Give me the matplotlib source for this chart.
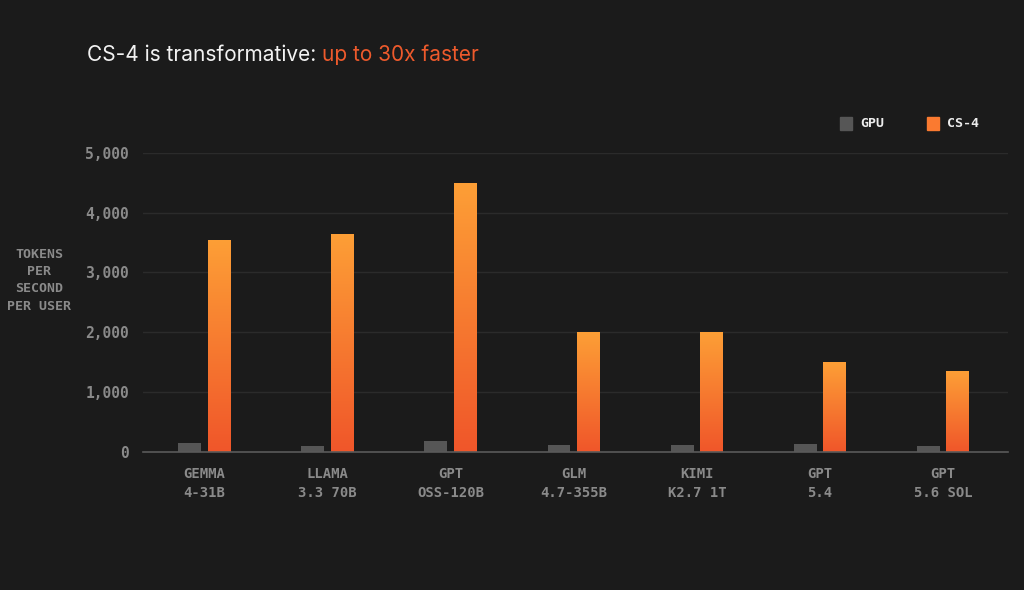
import numpy as np
import matplotlib.pyplot as plt
from matplotlib.colors import LinearSegmentedColormap
from matplotlib.patches import Rectangle

# data
models = ['GEMMA\n4-31B', 'LLAMA\n3.3 70B', 'GPT\nOSS-120B', 'GLM\n4.7-355B',
          'KIMI\nK2.7 1T', 'GPT\n5.4', 'GPT\n5.6 SOL']
gpu = [155, 100, 180, 120, 120, 140, 100]
cs4 = [3550, 3650, 4500, 2000, 2000, 1500, 1350]
yticks = [0, 1000, 2000, 3000, 4000, 5000]

bg = '#1b1b1b'
grey_txt = '#8a8a8a'
mono = 'DejaVu Sans Mono'

fig = plt.figure(figsize=(10.24, 5.9), dpi=100, facecolor=bg)
ax = fig.add_axes([0.1396, 0.234, 0.845, 0.507])
ax.set_facecolor(bg)

x = np.arange(len(models))
w = 0.186
off = 0.12
ax.bar(x - off, gpu, w, color='#565656', zorder=3)
orange_bars = ax.bar(x + off, cs4, w, color='none', zorder=3)

# vertical gradient inside each CS-4 bar
cmap = LinearSegmentedColormap.from_list('cs4', ['#f0562a', '#fd9f36'])
grad = np.linspace(0, 1, 256).reshape(-1, 1)
for b in orange_bars:
    bx, by = b.get_x(), b.get_y()
    bw, bh = b.get_width(), b.get_height()
    im = ax.imshow(grad, cmap=cmap, origin='lower', aspect='auto',
                   extent=[bx, bx + bw, by, by + bh], zorder=3)
    clip = Rectangle((bx, by), bw, bh, transform=ax.transData)
    im.set_clip_path(clip)

ax.set_xlim(-0.5, len(models) - 0.47)
ax.set_ylim(0, 5000)
ax.set_yticks(yticks)
ax.set_yticklabels([f'{v:,}' for v in yticks], family=mono,
                   fontsize=10.5, color=grey_txt, fontweight='bold')
ax.set_xticks(x)
ax.set_xticklabels(models, family=mono, fontsize=10, color=grey_txt,
                   fontweight='bold', linespacing=1.45)
ax.tick_params(axis='y', length=0, pad=10)
ax.tick_params(axis='x', length=0, pad=11)
ax.grid(axis='y', color='#2b2b2b', linewidth=1, zorder=0)
for s in ['top', 'right', 'left']:
    ax.spines[s].set_visible(False)
ax.spines['bottom'].set_color('#5a5a5a')
ax.spines['bottom'].set_linewidth(1.2)
ax.spines['bottom'].set_zorder(4)

fig.text(0.038, 0.525, 'TOKENS\nPER\nSECOND\nPER USER', family=mono,
         fontsize=9.5, fontweight='bold', color=grey_txt, ha='center',
         va='center', linespacing=1.45)

# title in two colours
t1 = fig.text(0.085, 0.907, 'CS-4 is transformative: ', family='Inter',
              fontsize=15, color='#f2f2f2', va='center')
fig.canvas.draw()
bb = t1.get_window_extent()
fig.text(bb.x1 / fig.bbox.width, 0.907, 'up to 30x faster', family='Inter',
         fontsize=15, color='#ee5a2c', va='center')

# legend
leg_y = 0.791
for lx, col, lab in [(0.826, '#565656', 'GPU'), (0.911, '#fa7a30', 'CS-4')]:
    fig.patches.append(Rectangle((lx - 0.006, leg_y - 0.011), 0.012, 0.021,
                                 transform=fig.transFigure, color=col))
    fig.text(lx + 0.014, leg_y, lab, family=mono, fontsize=9.5,
             fontweight='bold', color='#ececec', va='center')

fig.savefig('out.png', dpi=100, facecolor=bg)
